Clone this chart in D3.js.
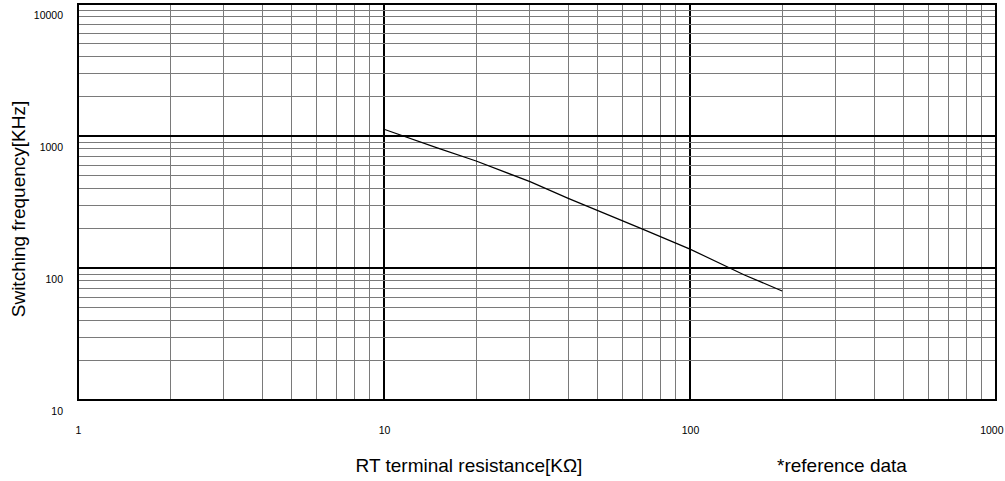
<!DOCTYPE html>
<html>
<head>
<meta charset="utf-8">
<script src="https://cdn.jsdelivr.net/npm/d3@7"></script>
<style>
  html, body { margin: 0; padding: 0; background: #fff; }
  svg { display: block; font-family: "Liberation Sans", Arial, sans-serif; }
</style>
</head>
<body>
<svg id="chart" width="1005" height="481"></svg>
<script>
// Data
const rtValues   = [10, 15, 20, 30, 40, 50, 70, 100, 150, 200];          // RT terminal resistance [kΩ]
const freqValues = [1125, 810, 646, 451, 337, 272, 197, 139, 89, 67];   // Switching frequency [kHz]
const xTickLabels = [1, 10, 100, 1000];
const yTickLabels = [10, 100, 1000, 10000];
const xTitle = "RT terminal resistance[K\u03A9]";
const yTitle = "Switching frequency[KHz]";
const noteText = "*reference data";

const svg = d3.select("#chart");
const x = d3.scaleLog().domain([1, 1000]).range([78, 996]);
const y = d3.scaleLog().domain([10, 10000]).range([400, 4]);

const isDecade = v => Math.abs(Math.log10(v) - Math.round(Math.log10(v))) < 1e-9;

const grid = svg.append("g");
grid.selectAll("line.vx").data(x.ticks()).enter().append("line")
  .attr("x1", d => x(d)).attr("x2", d => x(d))
  .attr("y1", y.range()[1]).attr("y2", y.range()[0])
  .attr("stroke", d => isDecade(d) ? "#000" : "#7a7a7a")
  .attr("stroke-width", d => isDecade(d) ? 1.3 : 1)
  .attr("shape-rendering", "crispEdges");
grid.selectAll("line.hy").data(y.ticks()).enter().append("line")
  .attr("x1", x.range()[0]).attr("x2", x.range()[1])
  .attr("y1", d => y(d)).attr("y2", d => y(d))
  .attr("stroke", d => isDecade(d) ? "#000" : "#7a7a7a")
  .attr("stroke-width", d => isDecade(d) ? 1.3 : 1)
  .attr("shape-rendering", "crispEdges");

svg.append("rect")
  .attr("x", x.range()[0]).attr("y", y.range()[1])
  .attr("width", x.range()[1] - x.range()[0])
  .attr("height", y.range()[0] - y.range()[1])
  .attr("fill", "none").attr("stroke", "#000").attr("stroke-width", 2);

const line = d3.line().x((d, i) => x(rtValues[i])).y(d => y(d));
svg.append("path").datum(freqValues)
  .attr("d", line)
  .attr("fill", "none").attr("stroke", "#000").attr("stroke-width", 1.2);

const xAxis = svg.append("g")
  .attr("transform", `translate(0, 400)`)
  .call(d3.axisBottom(x).tickValues(xTickLabels).tickFormat(d3.format("d")).tickSize(0).tickPadding(0));
xAxis.select(".domain").remove();
xAxis.selectAll("text")
  .attr("y", 34).attr("dy", 0)
  .style("font-size", "10.5px").attr("fill", "#000")
  .style("font-family", "'Liberation Sans', Arial, sans-serif");
// last label kept inside the page (the reference shows it shifted left of its tick)
xAxis.selectAll(".tick").filter(d => d === xTickLabels[xTickLabels.length - 1])
  .select("text").attr("text-anchor", "end").attr("x", 1003 - x(xTickLabels[xTickLabels.length - 1]));

const yAxis = svg.append("g")
  .attr("transform", `translate(63, 0)`)
  .call(d3.axisLeft(y).tickValues(yTickLabels).tickFormat(d3.format("d")).tickSize(0).tickPadding(0));
yAxis.select(".domain").remove();
yAxis.selectAll("text")
  .attr("x", 0).attr("dy", 0).attr("y", 14.8)
  .style("font-size", "10.5px").attr("fill", "#000")
  .style("font-family", "'Liberation Sans', Arial, sans-serif");

svg.append("text")
  .attr("x", 469).attr("y", 472)
  .attr("text-anchor", "middle")
  .style("font-size", "19px")
  .text(xTitle);

svg.append("text")
  .attr("x", 777).attr("y", 472)
  .attr("text-anchor", "start")
  .style("font-size", "19px")
  .text(noteText);

svg.append("text")
  .attr("transform", "translate(25, 209) rotate(-90)")
  .attr("text-anchor", "middle")
  .style("font-size", "19px")
  .text(yTitle);
</script>
</body>
</html>
